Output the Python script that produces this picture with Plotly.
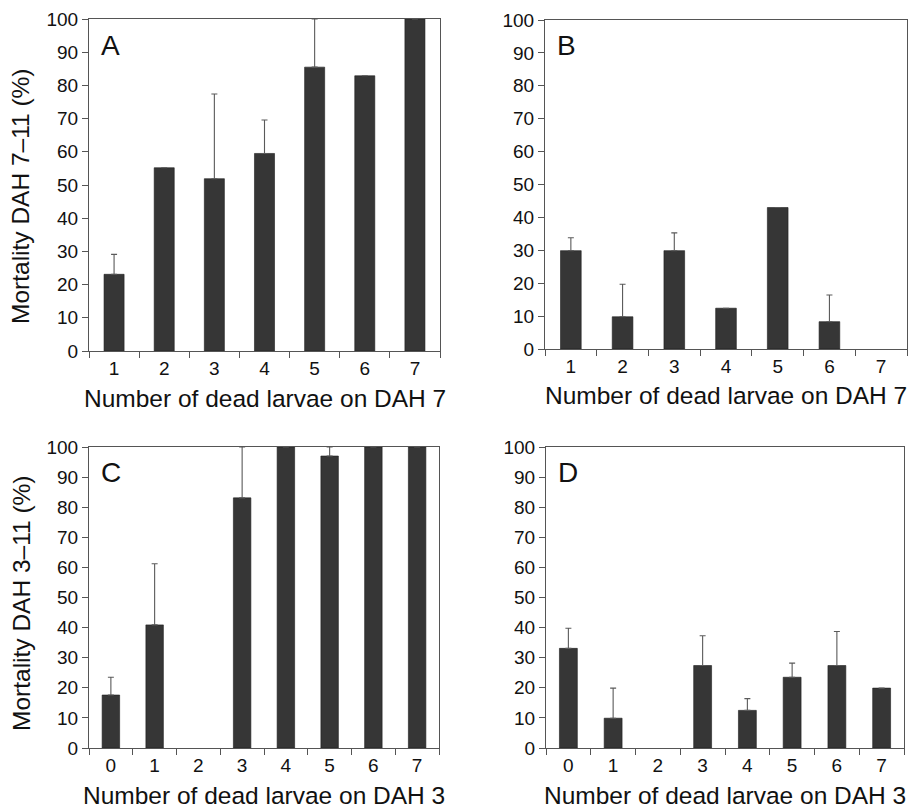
import plotly.graph_objects as go

W, H = 914, 809

# ---- data ----
cats_7 = ["1", "2", "3", "4", "5", "6", "7"]
cats_3 = ["0", "1", "2", "3", "4", "5", "6", "7"]

mort_A = [23.1, 55.2, 51.9, 59.5, 85.5, 82.9, 100]
err_A = [6.0, 0, 25.5, 10.1, 14.5, 0, 0]

mort_B = [29.9, 9.8, 29.9, 12.4, 43.0, 8.3, None]
err_B = [3.9, 9.9, 5.4, 0, 0, 8.1, 0]

mort_C = [17.6, 40.9, None, 83.1, 100, 97.0, 100, 100]
err_C = [5.9, 20.3, 0, 16.9, 0, 3.0, 0, 0]

mort_D = [33.1, 9.9, None, 27.4, 12.5, 23.5, 27.4, 19.9]
err_D = [6.7, 10.0, 0, 9.9, 3.9, 4.7, 11.3, 0]

panel_letters = ["A", "B", "C", "D"]
x_titles = ["Number of dead larvae on DAH 7", "Number of dead larvae on DAH 7",
            "Number of dead larvae on DAH 3", "Number of dead larvae on DAH 3"]
y_titles = ["Mortality DAH 7\u201311 (%)", "Mortality DAH 3\u201311 (%)"]
y_ticks = [0, 10, 20, 30, 40, 50, 60, 70, 80, 90, 100]

FONT = "Liberation Sans, Arial, Helvetica, sans-serif"
BAR = "#363636"
ERR = "#5a5a5a"
AX = "#555555"

# pixel boxes of the four plot areas: (left, right, top, bottom)
boxes = [(89, 440, 19, 351), (545, 907, 20, 349), (89, 439, 447, 748), (546, 904, 447, 748)]
datasets = [(cats_7, mort_A, err_A), (cats_7, mort_B, err_B),
            (cats_3, mort_C, err_C), (cats_3, mort_D, err_D)]

fig = go.Figure()
annotations = []

for i, ((l, r, t, b), (cats, vals, errs)) in enumerate(zip(boxes, datasets)):
    n = i + 1
    xa = "x" if n == 1 else f"x{n}"
    ya = "y" if n == 1 else f"y{n}"
    fig.add_trace(go.Bar(
        x=cats, y=vals, xaxis=xa, yaxis=ya,
        marker=dict(color=BAR, line=dict(color="#1e1e1e", width=0.6)),
        width=0.4,
        error_y=dict(type="data", symmetric=False, array=errs,
                     arrayminus=[0] * len(errs), color=ERR, thickness=1.1, width=3),
        showlegend=False, hoverinfo="skip",
    ))
    xkey = "xaxis" if n == 1 else f"xaxis{n}"
    ykey = "yaxis" if n == 1 else f"yaxis{n}"
    fig.update_layout(**{
        xkey: dict(domain=[l / W, r / W], anchor=ya, type="category",
                   categoryorder="array", categoryarray=cats,
                   range=[-0.5, len(cats) - 0.5], automargin=False,
                   showline=True, linecolor=AX, linewidth=1, mirror=True,
                   ticks="outside", tickson="boundaries", ticklen=6, tickcolor=AX,
                   showgrid=False, zeroline=False,
                   tickfont=dict(family=FONT, size=19, color="#111")),
        ykey: dict(domain=[1 - b / H, 1 - t / H], anchor=xa, range=[0, 100],
                   tickvals=y_ticks, automargin=False,
                   showline=True, linecolor=AX, linewidth=1, mirror=True,
                   ticks="outside", ticklen=6, tickcolor=AX,
                   showgrid=False, zeroline=False,
                   tickfont=dict(family=FONT, size=19, color="#111")),
    })
    # panel letter
    annotations.append(dict(text=panel_letters[i], xref="paper", yref="paper",
                            x=(l + 10) / W, y=1 - (t + 26) / H,
                            xanchor="left", yanchor="middle", showarrow=False,
                            font=dict(family=FONT, size=28, color="#111")))
    # x title
    annotations.append(dict(text=x_titles[i], xref="paper", yref="paper",
                            x=(l + r) / 2 / W, y=1 - (b + 47) / H,
                            xanchor="center", yanchor="middle", showarrow=False,
                            font=dict(family=FONT, size=24.5, color="#111")))

# y titles (left column only)
annotations.append(dict(text=y_titles[0], xref="paper", yref="paper",
                        x=21 / W, y=1 - 196 / H, textangle=-90,
                        xanchor="center", yanchor="middle", showarrow=False,
                        font=dict(family=FONT, size=24.5, color="#111")))
annotations.append(dict(text=y_titles[1], xref="paper", yref="paper",
                        x=21 / W, y=1 - 603 / H, textangle=-90,
                        xanchor="center", yanchor="middle", showarrow=False,
                        font=dict(family=FONT, size=24.5, color="#111")))

fig.update_layout(width=W, height=H, margin=dict(l=0, r=0, t=0, b=0, autoexpand=False),
                  paper_bgcolor="white", plot_bgcolor="white",
                  annotations=annotations, bargap=0.6)

fig.write_html("out.html", config={"displayModeBar": False},
               post_script="document.body.style.margin='0';document.body.style.padding='0';")
